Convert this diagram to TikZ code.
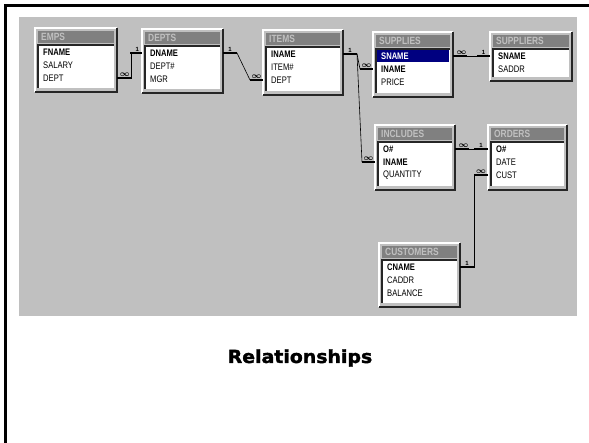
\documentclass[tikz,border=0pt]{standalone}
\usepackage{fontspec}
\setmainfont{Liberation Sans}
\newfontfamily\rowfont[FakeStretch=0.8]{Liberation Sans}
\newfontfamily\headfont[FakeStretch=1.05,FakeBold=1.8]{DejaVu Sans}
\definecolor{panelgray}{RGB}{192,192,192}
\definecolor{bargray}{RGB}{128,128,128}
\definecolor{selblue}{RGB}{0,0,128}
\tikzset{
  tablebox/.style={anchor=north west, fill=panelgray, inner sep=0pt, outer sep=0pt},
  titlebar/.style={anchor=north west, fill=bargray, minimum height=12, inner sep=0pt, outer sep=0pt},
  titletext/.style={anchor=west, inner sep=0pt, text=panelgray, font=\rowfont\bfseries\fontsize{10.5}{10}\selectfont},
  listbox/.style={anchor=north west, fill=white, inner sep=0pt, outer sep=0pt},
  rowtext/.style={anchor=west, inner sep=0pt, font=\rowfont\fontsize{9.5}{9}\selectfont},
  selbar/.style={anchor=west, fill=selblue, minimum height=12.5, inner sep=0pt},
  hilite/.style={white, line width=1.2pt},
  shade/.style={black!85, line width=1.2pt},
  link/.style={line width=0.6pt},
  stub/.style={line width=1.6pt},
  card/.style={above, inner sep=1pt, font=\bfseries\fontsize{6}{6}\selectfont},
  many/.style={above, inner sep=0.5pt, font=\boldmath\fontsize{8}{8}\selectfont},
}
\newcommand\key[1]{\textbf{#1}}
\newcommand\dbtable[6]{%
  \node[tablebox, minimum width=#4, minimum height=#5] (#1) at (#2,#3) {};
  \draw[hilite] (#1.south west) -- (#1.north west) -- (#1.north east);
  \draw[shade] (#1.north east) -- (#1.south east) -- (#1.south west);
  \node[titlebar, minimum width=#4-6] (#1-bar) at ([shift={(3,3)}]#1.north west) {};
  \node[titletext] (#1-name) at ([shift={(3,0)}]#1-bar.west) {#6};
  \node[listbox, minimum width=#4-6, minimum height=#5-21] (#1-list) at ([shift={(3,17)}]#1.north west) {};
  \draw[shade] (#1-list.south west) -- (#1-list.north west) -- (#1-list.north east);
}
\newcommand\dbrows[2]{%
  \foreach \nm/\lbl [count=\i] in {#2}{
    \node[rowtext] (#1-\nm) at ([shift={(8,11+13*\i)}]#1.north west) {\lbl};
  }
}
\begin{document}
\begin{tikzpicture}[x=1pt,y=-1pt]
  \useasboundingbox (0,0) rectangle (589,443);
  \draw[line width=2.5pt] (5.5,443) -- (5.5,5.5) -- (589,5.5);
  \fill[panelgray] (19,17) rectangle (577,316);

  \dbtable{emps}{35}{28}{82}{64}{EMPS}
  \dbrows{emps}{fname/\key{FNAME}, salary/SALARY, dept/DEPT}
  \dbtable{depts}{142}{29}{81}{64}{DEPTS}
  \dbrows{depts}{dname/\key{DNAME}, deptno/DEPT\#, mgr/MGR}
  \dbtable{items}{263}{30}{80}{65}{ITEMS}
  \dbrows{items}{iname/\key{INAME}, itemno/ITEM\#, dept/DEPT}
  \dbtable{supplies}{373}{32}{80}{65}{SUPPLIES}
  \node[selbar, minimum width=72] (supplies-sel) at ([shift={(4,24)}]supplies.north west) {};
  \dbrows{supplies}{sname/{\color{white}\key{SNAME}}, iname/\key{INAME}, price/PRICE}
  \dbtable{suppliers}{490}{32}{82}{49}{SUPPLIERS}
  \dbrows{suppliers}{sname/\key{SNAME}, saddr/SADDR}
  \dbtable{includes}{375}{125}{80}{65}{INCLUDES}
  \dbrows{includes}{o/\key{O\#}, iname/\key{INAME}, quantity/QUANTITY}
  \dbtable{orders}{488}{125}{79}{65}{ORDERS}
  \dbrows{orders}{o/\key{O\#}, date/DATE, cust/CUST}
  \dbtable{customers}{379}{243}{81}{64}{CUSTOMERS}
  \dbrows{customers}{cname/\key{CNAME}, caddr/CADDR, balance/BALANCE}

  \draw[link] (emps.east |- emps-dept) -- ++(14,0) |- (depts.west |- depts-dname);
  \draw[stub] (emps.east |- emps-dept) -- ++(14,0) node[many, pos=0.55] (emps-many) {$\infty$};
  \draw[stub] (depts.west |- depts-dname) -- ++(-12,0) node[card, pos=0.4] (depts-one) {1};

  \draw[link] (depts.east |- depts-dname) -- ++(14,0) -- ([xshift=-13]items.west |- items-dept);
  \draw[stub] (depts.east |- depts-dname) -- ++(14,0) node[card, pos=0.5] (depts-out) {1};
  \draw[stub] (items.west |- items-dept) -- ++(-13,0) node[many, pos=0.5] (items-many) {$\infty$};

  \draw[link] (items.east |- items-iname) -- ++(14,0) coordinate (items-out) -- ([xshift=-13]supplies.west |- supplies-iname);
  \draw[link] (items-out) -- ([xshift=-13]includes.west |- includes-iname);
  \draw[stub] (items.east |- items-iname) -- (items-out) node[card, pos=0.5] (items-one) {1};
  \draw[stub] (supplies.west |- supplies-iname) -- ++(-13,0) node[many, pos=0.5] (supplies-many) {$\infty$};
  \draw[stub] (includes.west |- includes-iname) -- ++(-13,0) node[many, pos=0.5] (includes-many) {$\infty$};

  \draw[link] (supplies.east |- supplies-sname) -- (suppliers.west |- suppliers-sname);
  \draw[stub] (supplies.east |- supplies-sname) -- ++(14,0) node[many, pos=0.6] (supplies-out) {$\infty$};
  \draw[stub] (suppliers.west |- suppliers-sname) -- ++(-13,0) node[card, pos=0.5] (suppliers-one) {1};

  \draw[link] (includes.east |- includes-o) -- (orders.west |- orders-o);
  \draw[stub] (includes.east |- includes-o) -- ++(14,0) node[many, pos=0.6] (includes-out) {$\infty$};
  \draw[stub] (orders.west |- orders-o) -- ++(-14,0) node[card, pos=0.5] (orders-one) {1};

  \draw[link] (orders.west |- orders-cust) -- ++(-14,0) |- (customers.east |- customers-cname);
  \draw[stub] (orders.west |- orders-cust) -- ++(-14,0) node[many, pos=0.5] (orders-many) {$\infty$};
  \draw[stub] (customers.east |- customers-cname) -- ++(14,0) node[card, pos=0.5] (customers-one) {1};

  \node[font=\headfont\bfseries\fontsize{18}{20}\selectfont] (caption) at (300,358) {Relationships};
\end{tikzpicture}
\end{document}
